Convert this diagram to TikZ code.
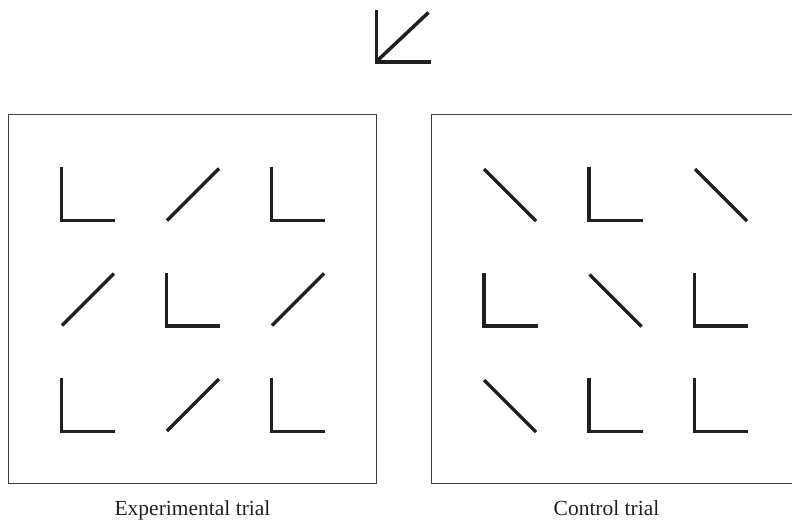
\documentclass[tikz,border=0pt]{standalone}
\usepackage{fontspec}
\setmainfont{Liberation Serif}
\usepackage{tikz}
\usetikzlibrary{positioning}
\definecolor{ink}{RGB}{35,31,32}
\definecolor{frame}{RGB}{64,64,64}

\begin{document}
\begin{tikzpicture}[x=1pt, y=-1pt,
stim/.style={ink, line width=3.5pt, line cap=butt, line join=miter},
panel/.style={draw=frame, line width=1pt, minimum width=368pt, minimum height=369pt, inner sep=0pt},
trial/.style={anchor=base, text=ink, font=\fontsize{21.5}{24}\selectfont}]
\useasboundingbox (0,0) rectangle (792,522);

% target
\draw[stim] (376.3,9.5) -- (376.3,62) -- (430.7,62);
\draw[stim] (377.5,60.5) -- (428.5,12.5);

% panels
\node [panel] (exp) at (192,298.5) {};
\node [panel] (ctl) at (615,298.5) {};

%% experimental trial
% row 1
\draw[stim] (61.5,167) -- ++(0,53.5) -- ++(53.5,0);
\draw[stim] (167,220.5) -- ++(52,-52);
\draw[stim] (271.5,167) -- ++(0,53.5) -- ++(53.5,0);
% row 2
\draw[stim] (62,325.5) -- ++(52,-52);
\draw[stim] (166.5,272.5) -- ++(0,53.5) -- ++(53.5,0);
\draw[stim] (272,325.5) -- ++(52,-52);
% row 3
\draw[stim] (61.5,378) -- ++(0,53.5) -- ++(53.5,0);
\draw[stim] (167,431) -- ++(52,-52);
\draw[stim] (271.5,378) -- ++(0,53.5) -- ++(53.5,0);

%% control trial
% row 1
\draw[stim] (484,169) -- ++(52,52);
\draw[stim] (589,167) -- ++(0,53.5) -- ++(53.5,0);
\draw[stim] (695,169) -- ++(52,52);
% row 2
\draw[stim] (484,272.5) -- ++(0,53.5) -- ++(53.5,0);
\draw[stim] (589.5,274.5) -- ++(52,52);
\draw[stim] (694.5,272.5) -- ++(0,53.5) -- ++(53.5,0);
% row 3
\draw[stim] (484,380) -- ++(52,52);
\draw[stim] (589,378) -- ++(0,53.5) -- ++(53.5,0);
\draw[stim] (694.5,378) -- ++(0,53.5) -- ++(53.5,0);

% labels
\node [trial] (explabel) at (192.5,515.5) {Experimental trial};
\node [trial] (ctllabel) at (606.5,515.5) {Control trial};
\end{tikzpicture}
\end{document}
